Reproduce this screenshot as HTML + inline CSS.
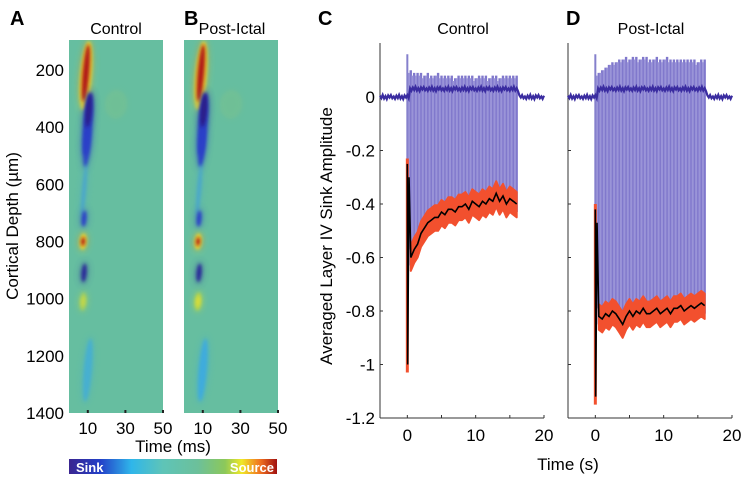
<!DOCTYPE html>
<html><head><meta charset="utf-8"><style>
body{margin:0;background:#fff;}
svg text{font-family:"Liberation Sans",Arial,sans-serif;}
</style></head><body>
<svg id="fig" width="743" height="480" viewBox="0 0 743 480" xmlns="http://www.w3.org/2000/svg">
<defs>
<filter id="blur3" x="-80%" y="-50%" width="260%" height="200%"><feGaussianBlur stdDeviation="1.6"/></filter>
<filter id="blur6" x="-80%" y="-50%" width="260%" height="200%"><feGaussianBlur stdDeviation="3.5"/></filter>
<linearGradient id="cbar" x1="0" x2="1" y1="0" y2="0">
<stop offset="0" stop-color="#3a2590"/><stop offset="0.15" stop-color="#2340c8"/><stop offset="0.3" stop-color="#2fb6ea"/><stop offset="0.45" stop-color="#5ec4b8"/><stop offset="0.62" stop-color="#6cc09a"/><stop offset="0.75" stop-color="#8cc85a"/><stop offset="0.83" stop-color="#f0e828"/><stop offset="0.92" stop-color="#f07020"/><stop offset="1" stop-color="#a01010"/>
</linearGradient>
<clipPath id="clipA"><rect x="69" y="40" width="94" height="373"/></clipPath>
<clipPath id="clipB"><rect x="184" y="40" width="94" height="373"/></clipPath>
</defs>
<g id="heatA"></g>
<g id="heatB"></g>
<g id="axesAB"></g>
<g id="plotC"></g>
<g id="plotD"></g>

<text x="10" y="25" font-size="20" font-weight="bold">A</text>
<text x="184" y="25" font-size="20" font-weight="bold">B</text>
<text x="318" y="25" font-size="20" font-weight="bold">C</text>
<text x="566" y="25" font-size="20" font-weight="bold">D</text>
<text x="116" y="34" font-size="16" text-anchor="middle">Control</text>
<text x="232" y="34" font-size="16" text-anchor="middle">Post-Ictal</text>
<text x="463" y="34" font-size="16" text-anchor="middle">Control</text>
<text x="651" y="34" font-size="16" text-anchor="middle">Post-Ictal</text>
<text transform="translate(18,226) rotate(-90)" font-size="17" text-anchor="middle">Cortical Depth (µm)</text>
<text x="173" y="452" font-size="17" text-anchor="middle">Time (ms)</text>
<text transform="translate(332,236) rotate(-90)" font-size="17" text-anchor="middle">Averaged Layer IV Sink Amplitude</text>
<text x="568" y="470" font-size="17" text-anchor="middle">Time (s)</text>
<g>
<rect x="69" y="459" width="208" height="15" fill="url(#cbar)"/>
<text x="76" y="472" font-size="13" font-weight="bold" fill="#fff">Sink</text>
<text x="274" y="472" font-size="13" font-weight="bold" fill="#fff" text-anchor="end">Source</text>
</g>
</svg>
<script>
// ---- Heatmap blobs (time ms, depth um, rx ms, ry um, color, opacity)
const blobT   = [9,   9,  10, 10.5, 9.5, 8,  8,   7.5, 7.5, 8,   7.5, 7.5,  10,   25];
const blobD   = [220, 210,390,340, 470, 620, 720, 800, 800, 910, 1010,1010, 1250, 320];
const blobRX  = [3.0, 1.6,2.4,1.6, 1.8, 0.9, 1.3, 1.8, 0.9, 1.4, 1.8, 1.2,  2.2,  6];
const blobRY  = [120, 100,110,60,  70,  90,  28,  28,  15,  32,  32,  18,   110,  50];
const blobCol = ['#f0e830','#b01818','#2a3fc8','#2a1a88','#2a3fc8','#3c9ce0','#2a3fc8','#f0e830','#b01818','#2a2a98','#c0d840','#e8e030','#38a8e8','#9cc870'];
const blobOpA = [1,1,1,0.9,0.9,0.7,1,1,1,1,0.6,0.4,0.6,0.15];
const blobOpB = [1,1,1,1,1,0.7,1,1,1,1,0.8,0.6,0.8,0.15];
const depthTicks = [200,400,600,800,1000,1200,1400];
const msTicks = [10,30,50];

// ---- Time series (seconds); mean sink amplitude during stimulation
const stimTimes = [0.5,1,1.5,2,2.5,3,3.5,4,4.5,5,5.5,6,6.5,7,7.5,8,8.5,9,9.5,10,10.5,11,11.5,12,12.5,13,13.5,14,14.5,15,15.5,16];
const meanC = [-0.6,-0.57,-0.55,-0.51,-0.49,-0.47,-0.46,-0.45,-0.45,-0.43,-0.44,-0.42,-0.42,-0.43,-0.41,-0.41,-0.40,-0.42,-0.39,-0.40,-0.41,-0.39,-0.40,-0.38,-0.39,-0.36,-0.39,-0.37,-0.40,-0.38,-0.39,-0.40];
const meanD = [-0.82,-0.83,-0.81,-0.82,-0.80,-0.81,-0.83,-0.85,-0.82,-0.80,-0.82,-0.80,-0.81,-0.79,-0.81,-0.81,-0.80,-0.79,-0.81,-0.80,-0.79,-0.81,-0.79,-0.79,-0.78,-0.80,-0.79,-0.78,-0.79,-0.78,-0.77,-0.78];
const topC  = [0.10,0.09,0.09,0.09,0.08,0.09,0.08,0.08,0.09,0.08,0.08,0.08,0.08,0.07,0.08,0.08,0.08,0.08,0.08,0.07,0.08,0.08,0.08,0.07,0.08,0.08,0.07,0.08,0.08,0.08,0.08,0.08];
const topD  = [0.09,0.10,0.11,0.12,0.13,0.13,0.14,0.14,0.15,0.14,0.15,0.15,0.14,0.15,0.15,0.14,0.14,0.15,0.14,0.14,0.15,0.14,0.14,0.14,0.14,0.14,0.14,0.14,0.14,0.13,0.14,0.14];
const onsetC = [-0.25,-1.0];
const onsetD = [-0.42,-1.12];
const baseNoise = [0.005,-0.004,0.008,-0.006,0.003,-0.008,0.006,-0.002,0.007,-0.005,0.002,-0.007];
const ampTicks = [0,-0.2,-0.4,-0.6,-0.8,-1,-1.2];
const sTicks = [0,10,20];

const NS='http://www.w3.org/2000/svg';
function mk(tag, attrs, parent){const e=document.createElementNS(NS,tag);for(const k in attrs)e.setAttribute(k,attrs[k]);parent.appendChild(e);return e;}

const hy = d => 70 + (d-200)*(343/1200);
const hxA = t => 69 + t*(94/50);
const hxB = t => 184 + t*(94/50);
function heat(g, hx, clip, ops){
  const bg=mk('rect',{x:hx(0),y:40,width:94,height:373,fill:'#66bea0'},g);
  
  
  const inner=mk('g',{'clip-path':'url(#'+clip+')'},g);
  for(let i=0;i<blobT.length;i++){
    const cx=hx(blobT[i]), cy=hy(blobD[i]);
    const rx=blobRX[i]*94/50, ry=blobRY[i]*343/1200;
    const halo=mk('ellipse',{cx,cy,rx:rx+2,ry:ry+3,fill:blobCol[i],opacity:ops[i]*0.3,filter:'url(#blur6)',transform:'rotate(5 '+cx+' '+cy+')'},inner);
    
    
    const e=mk('ellipse',{cx,cy,rx,ry,fill:blobCol[i],opacity:ops[i],filter:'url(#blur3)',transform:'rotate(5 '+cx+' '+cy+')'},inner);
    
    
  }
  msTicks.forEach(t=>{
    const tk=mk('rect',{x:hx(t)-1,y:410,width:2,height:3,fill:'#222'},g);
    
    
    const tl=mk('text',{x:hx(t),y:434,'font-size':17,'text-anchor':'middle'},g);
    tl.textContent=t;
    
    
  });
}
heat(document.getElementById('heatA'),hxA,'clipA',blobOpA);
heat(document.getElementById('heatB'),hxB,'clipB',blobOpB);
const axAB=document.getElementById('axesAB');
depthTicks.forEach(d=>{
  const t=mk('text',{x:64,y:hy(d)+6,'font-size':17,'text-anchor':'end'},axAB);
  t.textContent=d;
  
  
});

const ay = v => 97 + (-v)*(321/1.2);
function panel(g, x0, means, tops, onset, showYLabels){
  const ax = t => x0 + (t+4)*(164/24);
  const yl=mk('line',{x1:x0,y1:43,x2:x0,y2:418,stroke:'#333','stroke-width':1},g);
  
  
  const xl=mk('line',{x1:x0,y1:418,x2:x0+164,y2:418,stroke:'#333','stroke-width':1},g);
  
  
  ampTicks.forEach(v=>{
    const tk=mk('line',{x1:x0,y1:ay(v),x2:x0+3,y2:ay(v),stroke:'#333'},g);
    
    
    if(showYLabels){
      const tl=mk('text',{x:x0-5,y:ay(v)+6,'font-size':17,'text-anchor':'end'},g);
      tl.textContent=v;
      
      
    }
  });
  [0,5,10,15,20].forEach(t=>{
    const tk=mk('line',{x1:ax(t),y1:418,x2:ax(t),y2:415,stroke:'#333'},g);
    
    
  });
  sTicks.forEach(t=>{
    const tl=mk('text',{x:ax(t),y:441,'font-size':17,'text-anchor':'middle'},g);
    tl.textContent=t;
    
    
  });
  stimTimes.forEach((t,i)=>{
    const l=mk('line',{x1:ax(t),y1:ay(tops[i]),x2:ax(t),y2:ay(means[i]-0.03),stroke:'#8078cc','stroke-width':2.4},g);
    
    
    const l2=mk('line',{x1:ax(t-0.25),y1:ay(tops[i]-0.01),x2:ax(t-0.25),y2:ay(means[i]+0.03),stroke:'#9a94d8','stroke-width':2},g);
    
    
  });
  const sp=mk('line',{x1:ax(0),y1:ay(0.16),x2:ax(0),y2:ay(onset[0]),stroke:'#8580cc','stroke-width':2},g);
  
  
  let pts=[];
  for(let t=-4,k=0;t<=20.01;t+=0.2,k++){
    let v=baseNoise[k%baseNoise.length];
    if(t>0.3&&t<16.2) v+=0.03;
    pts.push(ax(t).toFixed(1)+','+ay(v).toFixed(1));
  }
  const bl=mk('polyline',{points:pts.join(' '),fill:'none',stroke:'#3a2ca0','stroke-width':2.2},g);
  
  
  let up=[],dn=[];
  stimTimes.forEach((t,i)=>{up.push(ax(t).toFixed(1)+','+ay(means[i]+0.045).toFixed(1));dn.unshift(ax(t).toFixed(1)+','+ay(means[i]-0.05).toFixed(1));});
  const band=mk('polygon',{points:up.concat(dn).join(' '),fill:'#f2502e',stroke:'#f2502e','stroke-width':2,'stroke-linejoin':'round'},g);
  
  
  const ob=mk('line',{x1:ax(0),y1:ay(onset[0]+0.02),x2:ax(0),y2:ay(onset[1]-0.03),stroke:'#f2502e','stroke-width':3},g);
  
  
  let mp=[ax(0)+','+ay(onset[0]), ax(0.05)+','+ay(onset[1]), ax(0.25)+','+ay(onset[0]-0.05)];
  stimTimes.forEach((t,i)=>mp.push(ax(t).toFixed(1)+','+ay(means[i]).toFixed(1)));
  const ml=mk('polyline',{points:mp.join(' '),fill:'none',stroke:'#000','stroke-width':1.6},g);
  
  
}
panel(document.getElementById('plotC'),380,meanC,topC,onsetC,true);
panel(document.getElementById('plotD'),568,meanD,topD,onsetD,false);
</script>
</body></html>
